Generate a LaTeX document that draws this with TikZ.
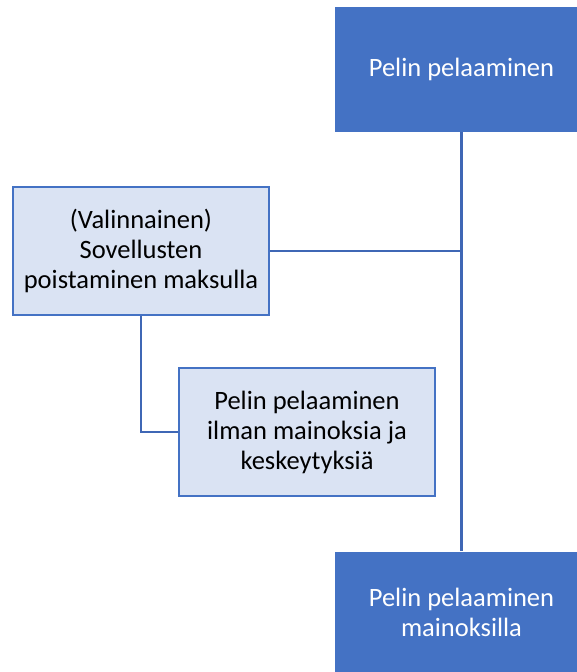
\documentclass[tikz,border=0pt]{standalone}
\usepackage{fontspec}
\setmainfont{Carlito}
\definecolor{accent}{HTML}{4472C4}
\definecolor{linkblue}{HTML}{3F67B5}
\definecolor{paleblue}{HTML}{DAE3F3}
\tikzset{
  x=1pt, y=-1pt,
  boxtext/.style={align=center, font=\fontsize{26.5}{30}\selectfont, inner sep=0pt},
  darkbox/.style={boxtext, rectangle, fill=accent, draw=none, text=white},
  lightbox/.style={boxtext, rectangle, fill=paleblue, draw=accent, line width=2.2pt, text=black},
  link/.style={draw=linkblue, line width=2.8pt}
}
\begin{document}
\begin{tikzpicture}
\useasboundingbox (0,0) rectangle (577,672);
\begin{scope}
\clip (0,0) rectangle (577,672);
% main outcomes (running past the right edge)
\node[darkbox, minimum width=253pt, minimum height=125pt] (play) at (461.5,69.5) {Pelin pelaaminen};
\node[darkbox, minimum width=253pt, minimum height=121pt] (ads) at (461.5,612) {Pelin pelaaminen\\mainoksilla};
\end{scope}
% optional branch
\node[lightbox, minimum width=256pt, minimum height=128pt] (pay) at (141,251) {(Valinnainen)\\Sovellusten\\poistaminen maksulla};
\node[lightbox, minimum width=256pt, minimum height=128pt] (noads) at (307,432) {Pelin pelaaminen\\ilman mainoksia ja\\keskeytyksiä};
% connectors
\draw[link] (play.south) -- (ads.north);
\draw[link] (pay.east) -- (pay.east -| play.south);
\draw[link] (pay.south) -- (pay.south |- noads.west) -- (noads.west);
\end{tikzpicture}
\end{document}
